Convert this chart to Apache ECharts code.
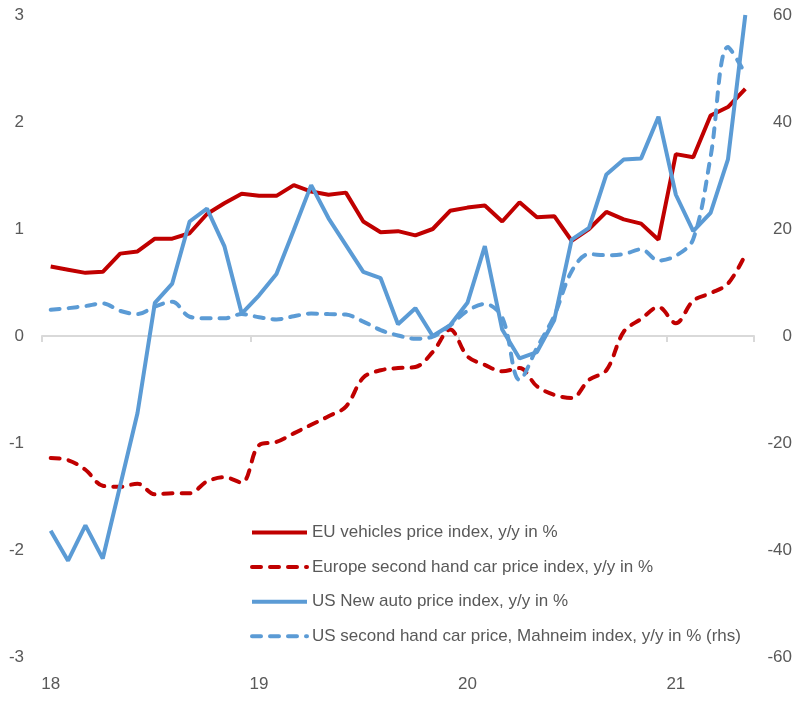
<!DOCTYPE html>
<html>
<head>
<meta charset="utf-8">
<title>Car price indices</title>
<style>
  html, body { margin: 0; padding: 0; background: #fff; }
  #main { width: 801px; height: 703px; }
</style>
<script src="https://cdn.jsdelivr.net/npm/echarts@6/dist/echarts.min.js"></script>
</head>
<body>
<div id="main"></div>
<script>
// monthly, Jan 2018 .. May 2021
var months = [
  '18-01','18-02','18-03','18-04','18-05','18-06','18-07','18-08','18-09','18-10','18-11','18-12',
  '19-01','19-02','19-03','19-04','19-05','19-06','19-07','19-08','19-09','19-10','19-11','19-12',
  '20-01','20-02','20-03','20-04','20-05','20-06','20-07','20-08','20-09','20-10','20-11','20-12',
  '21-01','21-02','21-03','21-04','21-05'
];
var euVehicles = [0.65, 0.62, 0.59, 0.60, 0.77, 0.79, 0.91, 0.91, 0.96, 1.14, 1.24, 1.33,
  1.31, 1.31, 1.41, 1.35, 1.32, 1.34, 1.07, 0.97, 0.98, 0.94, 1.00, 1.17,
  1.20, 1.22, 1.07, 1.25, 1.11, 1.12, 0.89, 1.00, 1.16, 1.09, 1.05, 0.90,
  1.70, 1.67, 2.06, 2.14, 2.31];
var euSecondHand = [-1.14, -1.16, -1.25, -1.40, -1.41, -1.38, -1.48, -1.47, -1.47, -1.36, -1.32, -1.37,
  -1.02, -0.99, -0.91, -0.83, -0.75, -0.66, -0.39, -0.32, -0.30, -0.29, -0.15, 0.06,
  -0.19, -0.27, -0.33, -0.30, -0.47, -0.55, -0.58, -0.41, -0.32, 0.04, 0.16, 0.27,
  0.12, 0.33, 0.40, 0.49, 0.76];
var usNewAuto = [-1.82, -2.10, -1.77, -2.08, -1.40, -0.72, 0.31, 0.49, 1.07, 1.19, 0.84, 0.21,
  0.38, 0.58, 0.99, 1.41, 1.10, 0.85, 0.60, 0.54, 0.11, 0.26, 0.00, 0.10,
  0.31, 0.84, 0.06, -0.21, -0.15, 0.15, 0.90, 1.01, 1.51, 1.65, 1.66, 2.05,
  1.32, 0.98, 1.15, 1.65, 3.00];
var usManheim = [4.9, 5.2, 5.6, 6.1, 4.7, 4.1, 5.5, 6.4, 3.6, 3.3, 3.3, 4.1,
  3.5, 3.1, 3.7, 4.2, 4.1, 4.0, 2.7, 1.1, 0.1, -0.5, -0.1, 2.0,
  4.7, 6.0, 3.5, -8.2, -2.2, 3.8, 12.1, 15.3, 15.1, 15.3, 16.2, 14.1,
  15.0, 18.1, 33.5, 54.0, 49.0];

var names = [
  'EU vehicles price index, y/y in %',
  'Europe second hand car price index, y/y in %',
  'US New auto price index, y/y in %',
  'US second hand car price, Mahneim index, y/y in % (rhs)'
];

var RED = '#C00000', BLUE = '#5B9BD5', TXT = '#595959', AX = '#D9D9D9';
var FONT = 'Liberation Sans';

function isJan(index) { return index % 12 === 0; }

var chart = echarts.init(document.getElementById('main'));
chart.setOption({
  animation: false,
  backgroundColor: '#fff',
  textStyle: { fontFamily: FONT },
  grid: { left: 42, right: 47, top: 15, bottom: 46 },
  legend: {
    orient: 'vertical',
    left: 250,
    top: 524,
    padding: 0,
    itemWidth: 55,
    itemHeight: 14,
    itemGap: 17.6,
    itemStyle: { opacity: 0 },
    lineStyle: { width: 4 },
    textStyle: { color: TXT, fontSize: 17, fontFamily: FONT },
    data: names
  },
  xAxis: [
    {
      type: 'category',
      data: months,
      boundaryGap: true,
      axisLine: { show: false, onZero: false },
      axisTick: { show: false },
      axisLabel: {
        color: TXT, fontSize: 17, margin: 19,
        interval: isJan,
        formatter: function (v) { return v.slice(0, 2); }
      }
    },
    {
      type: 'category',
      data: months,
      boundaryGap: true,
      position: 'bottom',
      axisLine: { show: true, onZero: true, lineStyle: { color: AX, width: 2 } },
      axisTick: { show: true, interval: isJan, length: 6, lineStyle: { color: AX, width: 2 } },
      axisLabel: { show: false }
    }
  ],
  yAxis: [
    {
      type: 'value', min: -3, max: 3, interval: 1,
      axisLine: { show: false }, axisTick: { show: false }, splitLine: { show: false },
      axisLabel: { color: TXT, fontSize: 17, margin: 18 }
    },
    {
      type: 'value', min: -60, max: 60, interval: 20, position: 'right',
      axisLine: { show: false }, axisTick: { show: false }, splitLine: { show: false },
      axisLabel: { color: TXT, fontSize: 17, margin: 38, align: 'right' }
    }
  ],
  series: [
    {
      name: names[0], type: 'line', data: euVehicles, symbol: 'none',
      lineStyle: { color: RED, width: 4 }, itemStyle: { color: RED }
    },
    {
      name: names[1], type: 'line', data: euSecondHand, symbol: 'none', smooth: 0.35,
      lineStyle: { color: RED, width: 4, type: [9, 9], cap: 'round' }, itemStyle: { color: RED }
    },
    {
      name: names[2], type: 'line', data: usNewAuto, symbol: 'none',
      lineStyle: { color: BLUE, width: 4 }, itemStyle: { color: BLUE }
    },
    {
      name: names[3], type: 'line', data: usManheim, yAxisIndex: 1, symbol: 'none', smooth: 0.35,
      lineStyle: { color: BLUE, width: 4, type: [9, 9], cap: 'round' }, itemStyle: { color: BLUE }
    }
  ]
});
</script>
</body>
</html>
